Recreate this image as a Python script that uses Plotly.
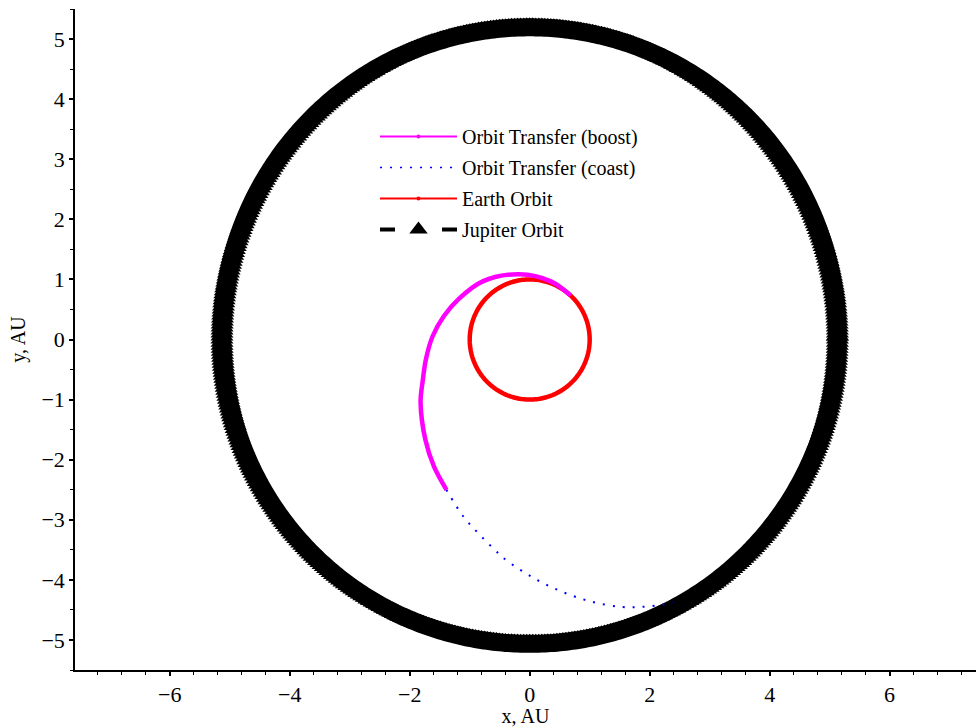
import numpy as np
import plotly.graph_objects as go

# ---- data ----
earth_radius = 1.0          # AU
jupiter_radius = 5.13       # AU
jupiter_center_y = 0.065    # AU (slight offset seen in the picture)

boost_x = [0.682, 0.352, -0.172, -0.783, -1.178, -1.430, -1.620, -1.730, -1.783, -1.819, -1.737, -1.595, -1.387]
boost_y = [0.731, 0.968, 1.086, 0.968, 0.680, 0.390, 0.050, -0.330, -0.684, -1.050, -1.678, -2.116, -2.501]

coast_x = [-1.39, -1.11, -0.88, -0.51, -0.38, 0.05, 0.52, 1.02, 1.53, 1.87, 2.22, 2.38]
coast_y = [-2.50, -2.94, -3.20, -3.57, -3.68, -3.96, -4.19, -4.36, -4.45, -4.45, -4.41, -4.37]

x_tickvals = [-6, -4, -2, 0, 2, 4, 6]
y_tickvals = [-5, -4, -3, -2, -1, 0, 1, 2, 3, 4, 5]

# orbit circles sampled from their radii
theta_e = np.linspace(0, 2 * np.pi, 361)
theta_j = np.linspace(0, 2 * np.pi, 641)

FONT = "Liberation Serif, Times New Roman, serif"

fig = go.Figure()

# Jupiter ring (drawn, no legend)
fig.add_trace(go.Scatter(
    x=jupiter_radius * np.cos(theta_j),
    y=jupiter_center_y + jupiter_radius * np.sin(theta_j),
    mode="lines+markers", showlegend=False, hoverinfo="skip",
    line=dict(color="black", width=18, simplify=False),
    marker=dict(symbol="triangle-up", size=20, color="black", line=dict(width=0)),
))

fig.add_trace(go.Scatter(
    x=earth_radius * np.cos(theta_e), y=earth_radius * np.sin(theta_e),
    mode="lines", showlegend=False, hoverinfo="skip",
    line=dict(color="#ff0000", width=4.5, simplify=False),
))

fig.add_trace(go.Scatter(
    x=coast_x, y=coast_y, mode="lines", showlegend=False,
    line=dict(color="#0000ff", width=2, dash="2px,8px", shape="spline", simplify=False),
))

fig.add_trace(go.Scatter(
    x=boost_x, y=boost_y, mode="lines", showlegend=False,
    line=dict(color="#ff00ff", width=4.5, shape="spline", smoothing=1.0, simplify=False),
))

# legend entries
fig.add_trace(go.Scatter(
    x=[None], y=[None], mode="lines+markers", name="Orbit Transfer (boost)", legendgroup="a",
    line=dict(color="#ff00ff", width=2), marker=dict(color="#ff00ff", size=4),
))
fig.add_trace(go.Scatter(
    x=[None], y=[None], mode="lines", name="Orbit Transfer (coast)", legendgroup="b",
    line=dict(color="#0000ff", width=1.5, dash="2px,8px"),
))
fig.add_trace(go.Scatter(
    x=[None], y=[None], mode="lines+markers", name="Earth Orbit", legendgroup="c",
    line=dict(color="#ff0000", width=2), marker=dict(color="#ff0000", size=4),
))
fig.add_trace(go.Scatter(
    x=[None], y=[None], mode="lines+markers", name="Jupiter Orbit", legendgroup="d",
    line=dict(color="black", width=4, dash="15px,47px"),
    marker=dict(symbol="triangle-up", size=16, color="black"),
))

fig.update_layout(
    width=976, height=727,
    margin=dict(l=75, r=0, t=9, b=57),
    paper_bgcolor="white", plot_bgcolor="white",
    font=dict(family=FONT, size=22, color="black"),
    showlegend=True,
    legend=dict(
        x=(375 - 75) / 901, y=1 - (117 - 9) / 661, xanchor="left", yanchor="top",
        bgcolor="rgba(0,0,0,0)", borderwidth=0,
        font=dict(family=FONT, size=20, color="black"),
        itemwidth=77, tracegroupgap=2,
    ),
    xaxis=dict(
        range=[-7.58, 7.44], showgrid=False, zeroline=False,
        showline=True, linecolor="black", linewidth=1.5,
        ticks="outside", ticklen=4, tickwidth=1.5, tickcolor="black",
        tickfont=dict(family=FONT, size=22, color="black"),
        tickvals=x_tickvals, ticktext=[str(v).replace("-", "\u2212") for v in x_tickvals],
        minor=dict(dtick=0.4, tick0=0, ticks="outside", ticklen=3, tickwidth=1, tickcolor="black"),
        title=dict(text="x, AU", font=dict(family=FONT, size=20), standoff=2),
        anchor="y", position=0,
    ),
    yaxis=dict(
        range=[-5.5, 5.5], showgrid=False, zeroline=False,
        showline=True, linecolor="black", linewidth=1.5,
        ticks="outside", ticklen=4, tickwidth=1.5, tickcolor="black",
        tickfont=dict(family=FONT, size=22, color="black"),
        tickvals=y_tickvals, ticktext=[str(v).replace("-", "\u2212") for v in y_tickvals],
        minor=dict(dtick=0.5, tick0=0, ticks="outside", ticklen=3, tickwidth=1, tickcolor="black"),
        title=dict(text="y, AU", font=dict(family=FONT, size=20), standoff=10),
    ),
)

fig.write_html("out.html")
